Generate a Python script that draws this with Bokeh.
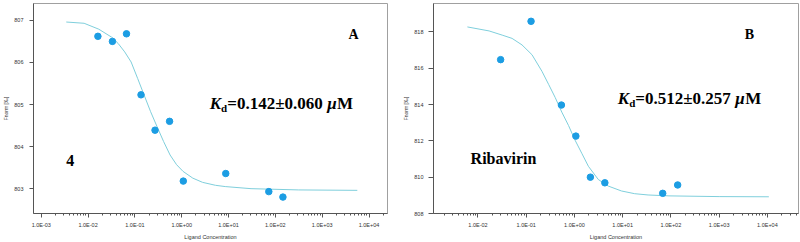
from bokeh.plotting import figure
from bokeh.models import Range1d, FixedTicker, CustomJSTickFormatter, Label
from bokeh.layouts import row
from bokeh.embed import file_html
from bokeh.resources import INLINE

# ---------------- data ----------------
# Panel A: compound 4
a_conc = [0.0162, 0.0331, 0.0661, 0.135, 0.269, 0.550, 1.08, 8.71, 72.4, 145.0]
a_fnorm = [806.62, 806.50, 806.68, 805.23, 804.39, 804.60, 803.18, 803.36, 802.93, 802.80]
a_fit_conc = [0.00342, 0.00822, 0.01687, 0.0318, 0.0439, 0.0605, 0.0830, 0.1143,
              0.1578, 0.2163, 0.298, 0.410, 0.564, 0.776, 1.069, 1.726, 2.786,
              5.26, 8.49, 30.2, 316.0, 5623.0]
a_fit_fnorm = [806.96, 806.93, 806.79, 806.60, 806.45, 806.25, 806.01, 805.62,
               805.22, 804.83, 804.47, 804.12, 803.80, 803.57, 803.41, 803.25, 803.15,
               803.08, 803.05, 803.00, 802.97, 802.96]
a_yticks = [803, 804, 805, 806, 807]

# Panel B: Ribavirin
b_conc = [0.0295, 0.126, 0.537, 1.07, 2.14, 4.27, 67.6, 138.0]
b_fnorm = [816.47, 818.58, 813.97, 812.26, 810.00, 809.69, 809.11, 809.57]
b_fit_conc = [0.00603, 0.0170, 0.0317, 0.0509, 0.0818, 0.1318, 0.2118, 0.2911,
              0.398, 0.547, 0.752, 1.028, 1.416, 1.945, 3.126, 5.023, 9.44,
              17.74, 33.6, 91.2, 1000.0, 10715.0]
b_fit_fnorm = [818.27, 818.05, 817.82, 817.64, 817.28, 816.74, 815.83, 815.11,
               814.39, 813.58, 812.85, 812.04, 811.32, 810.60, 809.87, 809.51, 809.24,
               809.09, 809.02, 808.97, 808.93, 808.92]
b_yticks = [808, 810, 812, 814, 816, 818]

a_xticks = [1e-3, 1e-2, 1e-1, 1e0, 1e1, 1e2, 1e3, 1e4]
b_xticks = [1e-2, 1e-1, 1e0, 1e1, 1e2, 1e3, 1e4]

DOT = "#1c9de3"
FIT = "#7fcfdc"
SERIF = "Liberation Serif"
SANS = "Liberation Sans"


def minor_for(decades):
    out = []
    for d in decades:
        for m in range(2, 10):
            out.append(m * d)
    return out


fmt_code = """
const e = Math.round(Math.log10(tick));
return '1.0E' + (e < 0 ? '-' : '+') + String(Math.abs(e)).padStart(2, '0');
"""


def make_panel(conc, fnorm, fit_c, fit_f, xr, yr, xticks, minor_decades, yticks,
               borders, tick_out, lab_standoff):
    bl, br, bt, bb = borders
    p = figure(width=400, height=242, x_axis_type="log",
               x_range=Range1d(*xr), y_range=Range1d(*yr),
               output_backend="svg", toolbar_location=None,
               min_border_left=bl, min_border_right=br,
               min_border_top=bt, min_border_bottom=bb)
    p.grid.visible = False
    p.outline_line_color = "#a0a0a0"
    p.outline_line_width = 1
    p.background_fill_color = "white"
    p.border_fill_color = "white"

    p.line(fit_c, fit_f, line_color=FIT, line_width=1.0)
    p.scatter(conc, fnorm, size=6.5, fill_color=DOT, line_color=DOT)

    xa = p.xaxis[0]
    xa.ticker = FixedTicker(ticks=xticks, minor_ticks=minor_for(minor_decades))
    xa.formatter = CustomJSTickFormatter(code=fmt_code)
    xa.axis_label = "Ligand Concentration"
    xa.axis_label_text_font = SANS
    xa.axis_label_text_font_size = "5.5px"
    xa.axis_label_text_font_style = "normal"
    xa.axis_label_text_color = "#333333"
    xa.axis_label_standoff = 3
    xa.major_label_text_font = SANS
    xa.major_label_text_font_size = "5.5px"
    xa.major_label_text_color = "#333333"
    xa.major_label_standoff = 4
    xa.major_tick_in = 0
    xa.major_tick_out = 4
    xa.minor_tick_in = 0
    xa.minor_tick_out = 2
    xa.axis_line_color = "#555555"
    xa.major_tick_line_color = "#555555"
    xa.minor_tick_line_color = "#555555"

    ya = p.yaxis[0]
    ya.ticker = FixedTicker(ticks=yticks)
    ya.axis_label = "Fnorm [‰]"
    ya.axis_label_text_font = SANS
    ya.axis_label_text_font_size = "5px"
    ya.axis_label_text_font_style = "normal"
    ya.axis_label_text_color = "#333333"
    ya.axis_label_standoff = 2
    ya.major_label_text_font = SANS
    ya.major_label_text_font_size = "5.5px"
    ya.major_label_text_color = "#333333"
    ya.major_label_standoff = lab_standoff
    ya.major_tick_in = 0
    ya.major_tick_out = tick_out
    ya.minor_tick_line_color = None
    ya.axis_line_color = "#555555"
    ya.major_tick_line_color = "#555555"
    return p


def add_text(p, x, y, text, size, style="bold", xoff=0, yoff=0):
    p.add_layout(Label(x=x, y=y, text=text, x_offset=xoff, y_offset=yoff,
                       text_font=SERIF, text_font_size=size,
                       text_font_style=style, text_color="black",
                       text_align="left", text_baseline="alphabetic"))


def add_kd(p, x, y, value_text):
    add_text(p, x, y, "K", "17px", "bold italic", 0, 0)
    add_text(p, x, y, "d", "11px", "bold", 11.3, -4)
    add_text(p, x, y, value_text, "17px", "bold", 17.4, 0)
    add_text(p, x, y, "μ", "17px", "bold italic", 117.5, 0)
    add_text(p, x, y, "M", "17px", "bold", 127.3, 0)


pA = make_panel(a_conc, a_fnorm, a_fit_conc, a_fit_fnorm,
                (10 ** -3.166, 10 ** 4.395), (802.41, 807.40),
                a_xticks, [1e-3, 1e-2, 1e-1, 1e0, 1e1, 1e2, 1e3, 1e4], a_yticks,
                (23, 13, 3, 28), 4, 6)
add_text(pA, 10 ** 3.563, 806.66, "A", "14px")
add_text(pA, 10 ** -2.466, 803.68, "4", "16px")
add_kd(pA, 10 ** 0.60, 805.02, "=0.142±0.060 ")

pB = make_panel(b_conc, b_fnorm, b_fit_conc, b_fit_fnorm,
                (10 ** -2.922, 10 ** 4.645), (808.0, 819.56),
                b_xticks, [1e-3, 1e-2, 1e-1, 1e0, 1e1, 1e2, 1e3, 1e4], b_yticks,
                (31, 2, 3, 26), 5, 5)
add_text(pB, 10 ** 3.532, 817.88, "B", "14px")
add_text(pB, 10 ** -2.153, 811.05, "Ribavirin", "16px")
add_kd(pB, 10 ** 0.90, 814.33, "=0.512±0.257 ")

layout = row(pA, pB)
open("out.html", "w").write(file_html(layout, INLINE))
